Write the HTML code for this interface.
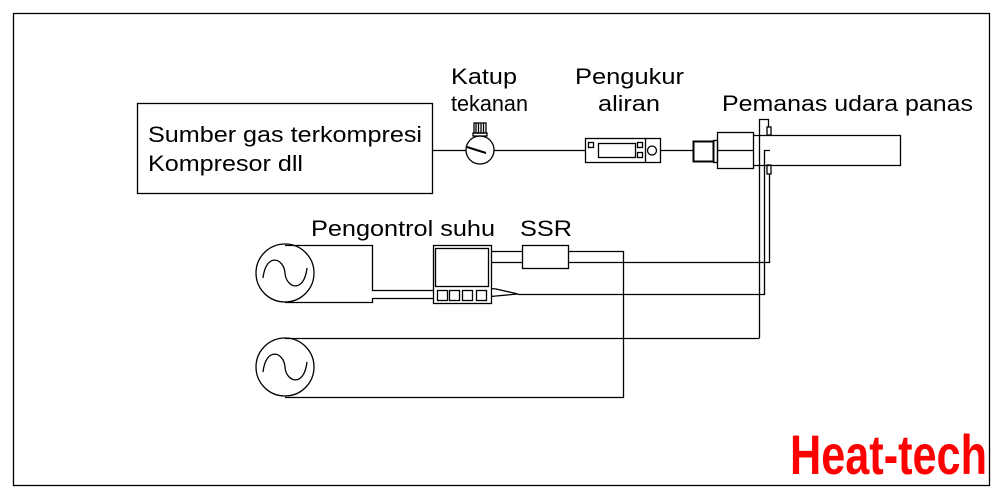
<!DOCTYPE html>
<html><head><style>
body{margin:0;background:#fff}
svg{display:block}
text{font-family:"Liberation Sans",Arial,sans-serif;fill:#000}
</style></head><body>
<svg width="1004" height="500" viewBox="0 0 1004 500" xmlns="http://www.w3.org/2000/svg">
<g fill="none" stroke="#000" stroke-width="1.3">
<rect x="13.5" y="13.5" width="976" height="472"/>
<rect x="137.5" y="103.5" width="295" height="90"/>
<line x1="432" y1="150.5" x2="466" y2="150.5"/>
<line x1="494" y1="150.5" x2="585" y2="150.5"/>
<line x1="660" y1="150.5" x2="693" y2="150.5"/>
<circle cx="480" cy="150" r="14"/>
<rect x="474" y="123" width="12" height="10"/>
<line x1="476" y1="123" x2="476" y2="133"/><line x1="478.5" y1="123" x2="478.5" y2="133"/><line x1="481" y1="123" x2="481" y2="133"/><line x1="483.5" y1="123" x2="483.5" y2="133"/>
<rect x="473" y="133" width="14" height="3"/>
<line x1="467" y1="147" x2="486" y2="153" stroke-width="2"/>
<rect x="585.5" y="138.5" width="75" height="24"/>
<rect x="598.5" y="143.5" width="37" height="14"/>
<rect x="588.5" y="142.5" width="5" height="5"/>
<rect x="637.5" y="142.5" width="5" height="5"/>
<rect x="637.5" y="152.5" width="5" height="5"/>
<line x1="645.5" y1="138" x2="645.5" y2="162"/>
<circle cx="652" cy="150.5" r="4.5"/>
<rect x="693.5" y="141.5" width="20" height="20" stroke-width="2"/>
<rect x="713.5" y="140.5" width="4" height="22"/>
<rect x="717.5" y="132.5" width="36" height="36"/>
<line x1="717" y1="150.5" x2="753" y2="150.5"/>
<polyline points="753,135.5 900.5,135.5 900.5,165.5 753,165.5"/>
<polyline points="759.5,338 759.5,119.5 768.5,119.5 768.5,127"/>
<rect x="767" y="127" width="4" height="8"/>
<rect x="767" y="165" width="4" height="9"/>
<polyline points="769.5,174 769.5,262.5 568,262.5"/>
<polyline points="770,150.5 764.5,150.5 764.5,294.5 518,294.5"/>
<line x1="759.5" y1="338.5" x2="285" y2="338.5"/>
<circle cx="285" cy="273" r="29"/>
<path d="M263,278 C266,252 284,258 285,273 C286,288 304,294 307,268"/>
<circle cx="285" cy="367" r="29"/>
<path d="M263,372 C266,346 284,352 285,367 C286,382 304,388 307,362"/>
<polyline points="285,245.5 372.5,245.5 372.5,290.5 433,290.5"/>
<polyline points="285,302.5 372.5,302.5 372.5,298.5 433,298.5"/>
<rect x="433.5" y="245.5" width="58" height="58"/>
<rect x="435.5" y="248.5" width="53" height="38"/>
<rect x="437.5" y="290.5" width="10" height="10"/>
<rect x="449.5" y="290.5" width="10" height="10"/>
<rect x="462.5" y="290.5" width="10" height="10"/>
<rect x="476.5" y="290.5" width="10" height="10"/>
<polyline points="491,288.5 496,289 518,294 496,296 491,296.5"/>
<line x1="491" y1="251.5" x2="522" y2="251.5"/>
<line x1="491" y1="262.5" x2="522" y2="262.5"/>
<rect x="522.5" y="245.5" width="46" height="23"/>
<polyline points="568,251.5 623.5,251.5 623.5,397.5 285,397.5"/>
</g>
<g font-size="22">
<text x="148" y="142" textLength="274" lengthAdjust="spacingAndGlyphs">Sumber gas terkompresi</text>
<text x="148" y="171" textLength="155" lengthAdjust="spacingAndGlyphs">Kompresor dll</text>
<text x="451" y="84" textLength="66" lengthAdjust="spacingAndGlyphs">Katup</text>
<text x="451" y="111" textLength="77" lengthAdjust="spacingAndGlyphs">tekanan</text>
<text x="575" y="84" textLength="109" lengthAdjust="spacingAndGlyphs">Pengukur</text>
<text x="598" y="111" textLength="62" lengthAdjust="spacingAndGlyphs">aliran</text>
<text x="722" y="111" textLength="251" lengthAdjust="spacingAndGlyphs">Pemanas udara panas</text>
<text x="311" y="236" textLength="184" lengthAdjust="spacingAndGlyphs">Pengontrol suhu</text>
<text x="520" y="236" textLength="52" lengthAdjust="spacingAndGlyphs">SSR</text>
</g>
<text x="790" y="474" font-size="56" font-weight="bold" style="fill:#ff0000" textLength="197" lengthAdjust="spacingAndGlyphs">Heat-tech</text>
</svg>
</body></html>
